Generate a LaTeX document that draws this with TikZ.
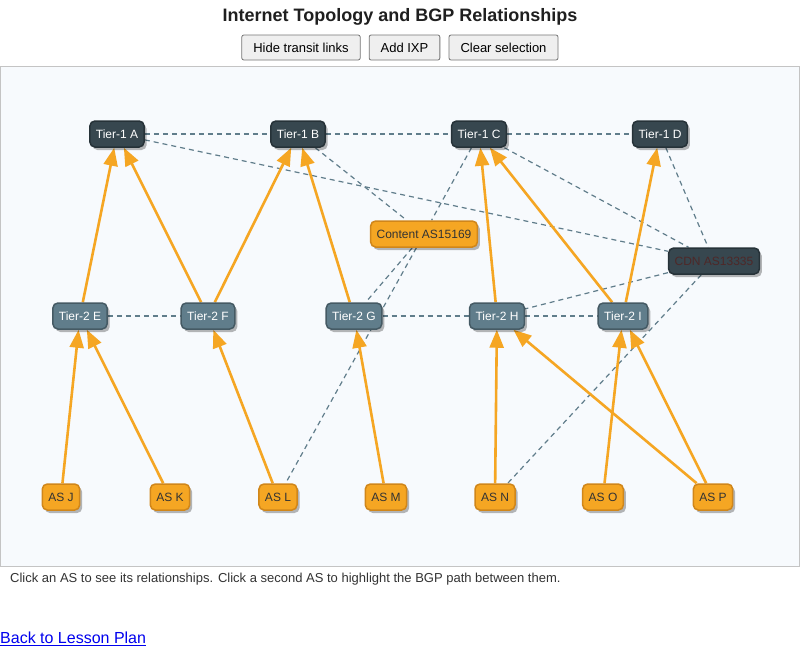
\documentclass[tikz,border=0pt]{standalone}
\usepackage{fontspec}
\setmainfont{Liberation Sans}
\usetikzlibrary{arrows.meta,shadows}
\definecolor{orng}{HTML}{F5A623}
\definecolor{orngb}{HTML}{D0861A}
\definecolor{tonef}{HTML}{37474F}
\definecolor{toneb}{HTML}{263238}
\definecolor{ttwof}{HTML}{607D8B}
\definecolor{ttwob}{HTML}{455A64}
\definecolor{peer}{HTML}{607D8B}
\definecolor{panelf}{HTML}{F7FAFD}
\definecolor{panelb}{HTML}{C4C4C4}
\definecolor{cdntext}{HTML}{4E2828}
\definecolor{txt}{HTML}{333333}
\definecolor{btnf}{HTML}{EFEFEF}
\definecolor{btnb}{HTML}{767676}
\definecolor{linkc}{HTML}{0000EE}
\pgfdeclarelayer{bg}
\pgfdeclarelayer{edges}
\pgfsetlayers{bg,edges,main}
\tikzset{
  asbase/.style={rounded corners=5pt, line width=1.5pt, minimum height=26pt, inner xsep=6pt, inner ysep=0pt,
    font=\fontsize{12}{14}\selectfont,
    drop shadow={shadow xshift=2.5pt, shadow yshift=-3pt, opacity=0.28, fill=black}},
  tierone/.style={asbase, fill=tonef, draw=toneb, text=white},
  tiertwo/.style={asbase, fill=ttwof, draw=ttwob, text=white},
  stub/.style={asbase, fill=orng, draw=orngb, text=txt},
  cdnbox/.style={asbase, fill=tonef, draw=toneb, text=cdntext},
  transit/.style={draw=orng, line width=2.6pt, -{Triangle[length=18pt,width=14pt]}},
  peering/.style={draw=peer, line width=1.2pt, dash pattern=on 5pt off 4pt},
  btn/.style={rounded corners=2pt, fill=btnf, draw=btnb, line width=0.8pt, minimum height=25pt, inner xsep=11.5pt,
    font=\fontsize{13}{15}\selectfont, text=black}
}
\begin{document}
\begin{tikzpicture}[x=1pt,y=-1pt]
\useasboundingbox (0,0) rectangle (800,662);
\begin{pgfonlayer}{bg}
\fill[white] (0,0) rectangle (800,662);
\filldraw[fill=panelf, draw=panelb, line width=1pt] (0.5,66) rectangle (799.5,566);
\end{pgfonlayer}
% title and buttons
\node[font=\bfseries\fontsize{18}{21}\selectfont, text=black!88] (title) at (400,17) {Internet Topology and BGP Relationships};
\node[btn] (b1) at (301,47.5) {Hide transit links};
\node[btn] (b2) at (404.5,47.5) {Add IXP};
\node[btn] (b3) at (503.5,47.5) {Clear selection};
% nodes
\node[tierone] (ta) at (117,134) {Tier-1 A};
\node[tierone] (tb) at (298,134) {Tier-1 B};
\node[tierone] (tc) at (479,134) {Tier-1 C};
\node[tierone] (td) at (660,134) {Tier-1 D};
\node[tiertwo] (te) at (80,316) {Tier-2 E};
\node[tiertwo] (tf) at (208,316) {Tier-2 F};
\node[tiertwo] (tg) at (354,316) {Tier-2 G};
\node[tiertwo] (th) at (497,316) {Tier-2 H};
\node[tiertwo] (ti) at (623,316) {Tier-2 I};
\node[stub] (cont) at (424,234) {Content AS15169};
\node[cdnbox] (cdn) at (714,261) {CDN AS13335};
\node[stub] (aj) at (61,497) {AS J};
\node[stub] (ak) at (170,497) {AS K};
\node[stub] (al) at (278,497) {AS L};
\node[stub] (am) at (386,497) {AS M};
\node[stub] (an) at (495,497) {AS N};
\node[stub] (ao) at (603,497) {AS O};
\node[stub] (ap) at (713,497) {AS P};
% footer
\node[anchor=west, text=txt, font=\fontsize{13}{15}\selectfont, inner sep=0pt] (foot) at (10,579) {Click an AS to see its relationships. Click a second AS to highlight the BGP path between them.};
\node[anchor=west, text=linkc, font=\fontsize{16}{19}\selectfont, inner sep=0pt] (link) at (0,639) {\underline{Back to Lesson Plan}};
% edges
\begin{pgfonlayer}{edges}
\draw[peering] (ta) -- (tb);
\draw[peering] (tb) -- (tc);
\draw[peering] (tc) -- (td);
\draw[peering] (te) -- (tf);
\draw[peering] (tg) -- (th);
\draw[peering] (th) -- (ti);
\draw[peering] (ta) -- (cdn);
\draw[peering] (tb) -- (cont);
\draw[peering] (tc) -- (cont);
\draw[peering] (tc) -- (cdn);
\draw[peering] (td) -- (cdn);
\draw[peering] (cont) -- (tg);
\draw[peering] (cont) -- (al);
\draw[peering] (cdn) -- (th);
\draw[peering] (cdn) -- (an);
\draw[transit] (te) -- (ta);
\draw[transit] (tf) -- (ta);
\draw[transit] (tf) -- (tb);
\draw[transit] (tg) -- (tb);
\draw[transit] (th) -- (tc);
\draw[transit] (ti) -- (tc);
\draw[transit] (ti) -- (td);
\draw[transit] (aj) -- (te);
\draw[transit] (ak) -- (te);
\draw[transit] (al) -- (tf);
\draw[transit] (am) -- (tg);
\draw[transit] (an) -- (th);
\draw[transit] (ap) -- (th);
\draw[transit] (ao) -- (ti);
\draw[transit] (ap) -- (ti);
\end{pgfonlayer}
\end{tikzpicture}
\end{document}
